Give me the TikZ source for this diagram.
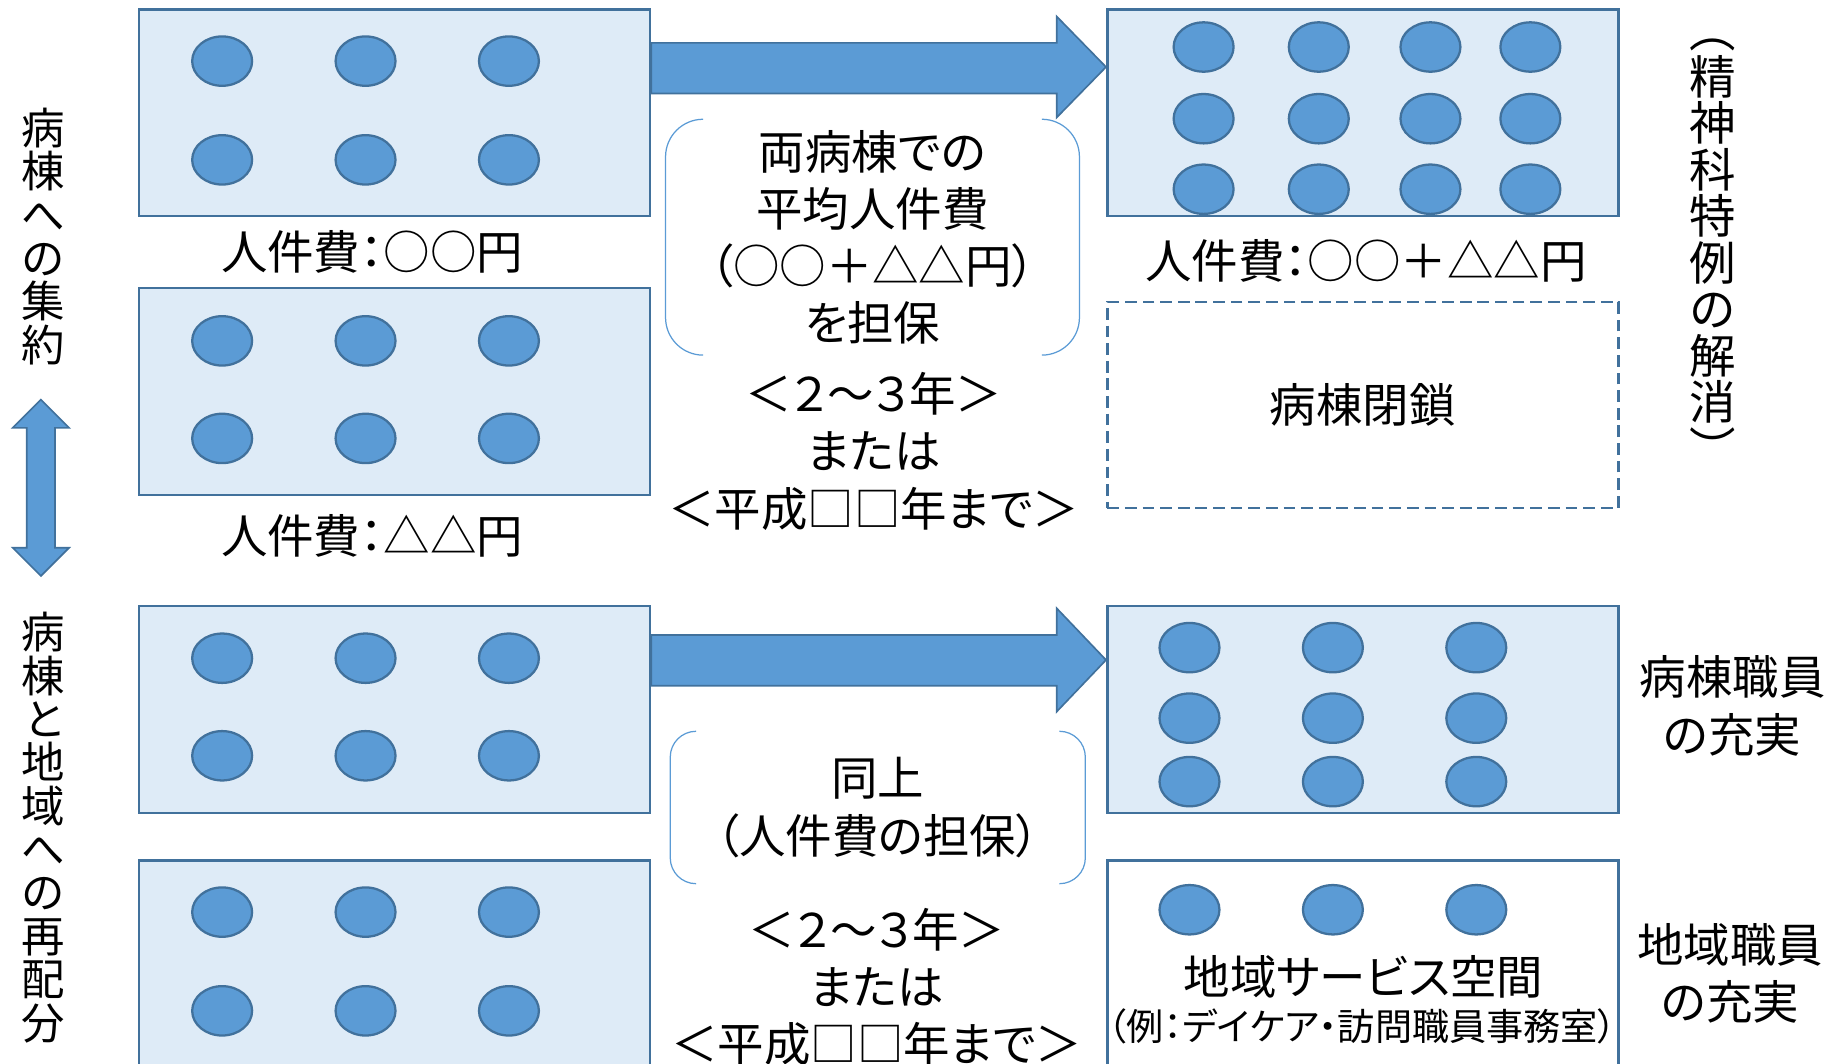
\documentclass[tikz,border=0pt]{standalone}
\usepackage{fontspec}
\setmainfont{Noto Sans CJK JP}[RawFeature=+palt]
\usetikzlibrary{shapes.geometric,calc}

\definecolor{wardfill}{HTML}{DEEBF7}
\definecolor{wardline}{HTML}{41719C}
\definecolor{staffblue}{HTML}{5B9BD5}

\newcommand{\mainfont}{\fontsize{22.5pt}{27.7pt}\selectfont}
\newcommand{\notefont}{\fontsize{18pt}{21pt}\selectfont}
\newcommand{\sidefont}{\fontsize{22.5pt}{22.5pt}\selectfont}
\newcommand{\leftfont}{\fontsize{21pt}{21pt}\selectfont}

% full-width signs
\newcommand{\zlt}{\symbol{"FF1C}}
\newcommand{\zgt}{\symbol{"FF1E}}
\newcommand{\zlp}{\symbol{"FF08}}
\newcommand{\zrp}{\symbol{"FF09}}
\newcommand{\zplus}{\symbol{"FF0B}}
\newcommand{\zcolon}{\symbol{"FF1A}}
\newcommand{\zwave}{\symbol{"FF5E}}
\newcommand{\ztwo}{\symbol{"FF12}}
\newcommand{\zthree}{\symbol{"FF13}}
\newcommand{\vlp}{\symbol{"FE35}}
\newcommand{\vrp}{\symbol{"FE36}}

\begin{document}
\begin{tikzpicture}[x=0.02cm, y=-0.02cm,
    ward/.style={draw=wardline, line width=1.2pt, fill=wardfill,
        minimum width=8.7cm, minimum height=3.52cm, inner sep=0pt},
    closedward/.style={ward, fill=none, dash pattern=on 0.2cm off 0.1cm},
    staff/.style={ellipse, draw=wardline, line width=1.1pt, fill=staffblue,
        minimum width=1.02cm, minimum height=0.84cm, inner sep=0pt},
    txt/.style={font=\mainfont, inner sep=0pt, align=center},
    vtxt/.style={font=\sidefont, inner sep=0pt, align=center},
    bracket/.style={draw=staffblue, line width=0.6pt},
    bigarrow/.style={draw=wardline, line width=0.8pt, fill=staffblue}
]
\useasboundingbox (0,0) rectangle (1568,905);
\clip (0,0) rectangle (1568,905);

% left column: two wards
\node[ward] (a1) at (335.5,96) {};
\node[ward] (a2) at (335.5,333) {};
\foreach \x in {189,311,433}
    \foreach \y in {52,136,290,373}
        \node[staff] (sa-\x-\y) at (\x,\y) {};
\node[txt] (costa1) at (316.5,214) {人件費\zcolon ○○円};
\node[txt] (costa2) at (316.5,456) {人件費\zcolon △△円};

% right column: merged ward and closed ward
\node[ward] (b1) at (1159.5,96) {};
\foreach \x in {1024,1122,1217,1302}
    \foreach \y in {40,101,161}
        \node[staff] (sb-\x-\y) at (\x,\y) {};
\node[txt] (costb1) at (1162,222) {人件費\zcolon ○○\zplus △△円};
\node[closedward, font=\mainfont, minimum height=3.5cm] (b2) at (1159.5,344.5) {病棟閉鎖};

% middle: guarantee and term
\node[txt, minimum width=7.03cm, minimum height=4cm] (keep1) at (742.3,201.8)
    {両病棟での\\平均人件費\\\zlp ○○\zplus △△円\zrp\\を担保};
\draw[bracket, rounded corners=0.64cm] ($(keep1.north west)+(32,0)$) -- (keep1.north west)
    -- (keep1.south west) -- ($(keep1.south west)+(32,0)$);
\draw[bracket, rounded corners=0.64cm] ($(keep1.north east)+(-32,0)$) -- (keep1.north east)
    -- (keep1.south east) -- ($(keep1.south east)+(-32,0)$);
\node[txt] (term1) at (743.5,384) {\zlt\ztwo\zwave\zthree 年\zgt\\または\\\zlt 平成□□年まで\zgt};

\draw[bigarrow] (a1.east |- 0,36.5) -- (899,36.5) -- (899,14) -- (b1.west |- 0,57)
    -- (899,100) -- (899,79.5) -- (a1.east |- 0,79.5) -- cycle;

% lower part: ward and community
\node[ward] (c1) at (335.5,603.5) {};
\node[ward] (c2) at (335.5,820) {};
\foreach \x in {189,311,433}
    \foreach \y in {560,643,776,860}
        \node[staff] (sc-\x-\y) at (\x,\y) {};

\node[ward] (d1) at (1159.5,603.5) {};
\node[ward, fill=white] (d2) at (1159.5,820) {};
\foreach \x in {1012,1134,1256} {
    \foreach \y in {551,611,665}
        \node[staff] (sd-\x-\y) at (\x,\y) {};
    \node[staff] (se-\x) at (\x,774) {};
}
\node[txt] (space) at (1160,831) {地域サービス空間};
\node[txt, font=\notefont] (example) at (1159,873.5) {\zlp 例\zcolon デイケア・訪問職員事務室\zrp};

\node[txt, minimum width=7.05cm, minimum height=2.58cm] (keep2) at (746.8,687)
    {同上\\\zlp 人件費の担保\zrp};
\draw[bracket, rounded corners=0.44cm] ($(keep2.north west)+(22,0)$) -- (keep2.north west)
    -- (keep2.south west) -- ($(keep2.south west)+(22,0)$);
\draw[bracket, rounded corners=0.44cm] ($(keep2.north east)+(-22,0)$) -- (keep2.north east)
    -- (keep2.south east) -- ($(keep2.south east)+(-22,0)$);
\node[txt] (term2) at (746,839.5) {\zlt\ztwo\zwave\zthree 年\zgt\\または\\\zlt 平成□□年まで\zgt};

\draw[bigarrow] (c1.east |- 0,540.2) -- (899,540.2) -- (899,517.5) -- (d1.west |- 0,561.5)
    -- (899,605.5) -- (899,583.4) -- (c1.east |- 0,583.4) -- cycle;

% side texts
\node[vtxt] (tokurei) at (1457,215) {\vlp\\精\\神\\科\\特\\例\\の\\解\\消\\\vrp};
\node[txt] (wardstaff) at (1474,600.5) {病棟職員\\の充実};
\node[txt] (areastaff) at (1472,828) {地域職員\\の充実};

\node[vtxt, font=\leftfont] (concentrate) at (37,201) {病\\棟\\へ\\の\\集\\約};
\node[vtxt, font=\leftfont] (redistribute) at (37,704) {病\\棟\\と\\地\\域\\へ\\の\\再\\配\\分};
\coordinate (up) at (34.8,340);
\coordinate (down) at (34.8,490);
\draw[bigarrow] (up) -- ++(24,24) -- ++(-12,0) -- ($(down)+(12,-24)$) -- ++(12,0) -- (down)
    -- ++(-24,-24) -- ++(12,0) -- ($(up)+(-12,24)$) -- ++(-12,0) -- cycle;
\end{tikzpicture}
\end{document}
